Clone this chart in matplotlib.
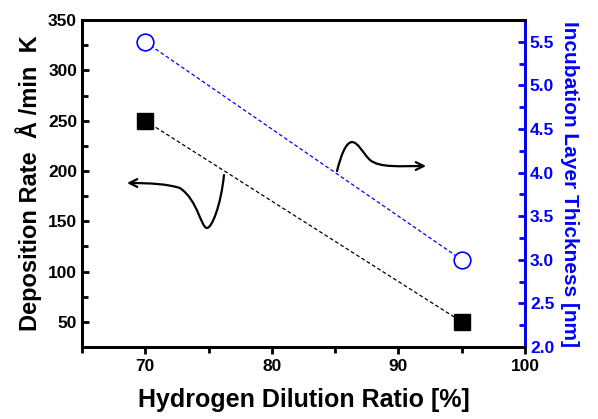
import matplotlib
matplotlib.use("Agg")
import matplotlib.pyplot as plt
from matplotlib.path import Path
from matplotlib.patches import FancyArrowPatch
from matplotlib.ticker import MultipleLocator, FormatStrFormatter

plt.rcParams['font.family'] = ['Liberation Sans', 'DejaVu Sans']
plt.rcParams['font.weight'] = 'bold'

# data
h2_ratio = [70, 95]
dep_rate = [250, 50]
incub_thick = [5.5, 3.0]

# annotation curves (data coords of left axis), cubic bezier control points
left_curve = [(76.22, 195.9), (75.98, 166.1), (75.27, 143.3), (74.88, 143.3),
              (74.40, 143.3), (74.16, 171.1), (72.74, 183.0),
              (71.79, 187.0), (70.37, 188.0), (68.56, 188.0)]
right_curve = [(85.15, 199.9), (85.46, 215.8), (85.86, 228.7), (86.33, 228.7),
               (86.81, 228.7), (87.12, 218.8), (87.75, 210.9),
               (88.54, 202.9), (90.12, 204.9), (92.18, 204.9)]

blue = '#0000ff'

fig = plt.figure(figsize=(5.98, 4.19), dpi=100)
ax = fig.add_axes([0.137, 0.172, 0.741, 0.780])
ax2 = ax.twinx()

ax.plot(h2_ratio, dep_rate, color='black', ls=(0, (3, 2)), lw=0.9,
        marker='s', ms=11, mfc='black', mec='black', zorder=3)
ax2.plot(h2_ratio, incub_thick, color=blue, ls=(0, (3, 2)), lw=0.9,
         marker='o', ms=12, mfc='white', mec=blue, mew=1.2, zorder=3)

ax.set_xlim(65, 100)
ax.set_ylim(25, 350)
ax2.set_ylim(2.0, 5.75)

ax.xaxis.set_major_locator(MultipleLocator(10))
ax.xaxis.set_minor_locator(MultipleLocator(5))
ax.yaxis.set_major_locator(MultipleLocator(50))
ax.yaxis.set_minor_locator(MultipleLocator(25))
ax2.yaxis.set_major_locator(MultipleLocator(0.5))
ax2.yaxis.set_minor_locator(MultipleLocator(0.25))
ax2.yaxis.set_major_formatter(FormatStrFormatter('%.1f'))

ax.tick_params(axis='x', which='both', direction='out', width=2, labelsize=12.5)
ax.tick_params(axis='x', which='major', length=5)
ax.tick_params(axis='x', which='minor', length=4)
ax.tick_params(axis='y', which='both', direction='in', width=2, labelsize=12.5)
ax.tick_params(axis='y', which='major', length=5)
ax.tick_params(axis='y', which='minor', length=4)
ax2.tick_params(axis='y', which='both', direction='in', width=2, labelsize=12.5,
                colors=blue)
ax2.tick_params(axis='y', which='major', length=5)
ax2.tick_params(axis='y', which='minor', length=4)

for lab in ax.get_xticklabels() + ax.get_yticklabels() + ax2.get_yticklabels():
    lab.set_fontweight('bold')

for s in ax.spines.values():
    s.set_linewidth(2)
for s in ax2.spines.values():
    s.set_linewidth(2)
ax2.spines['right'].set_color(blue)

ax.set_xlabel('Hydrogen Dilution Ratio [%]', fontsize=18, fontweight='bold', labelpad=10)
ax.set_ylabel('Deposition Rate  Å /min  K', fontsize=17, fontweight='bold', labelpad=4)
ax2.set_ylabel('Incubation Layer Thickness [nm]', fontsize=15, fontweight='bold',
               color=blue, rotation=270, labelpad=18)

codes = [Path.MOVETO] + [Path.CURVE4] * 9
for pts in (left_curve, right_curve):
    arr = FancyArrowPatch(path=Path(pts, codes), arrowstyle='->', mutation_scale=14,
                          lw=1.6, color='black', transform=ax.transData, zorder=4)
    ax.add_patch(arr)

fig.savefig('out.png', dpi=100)
